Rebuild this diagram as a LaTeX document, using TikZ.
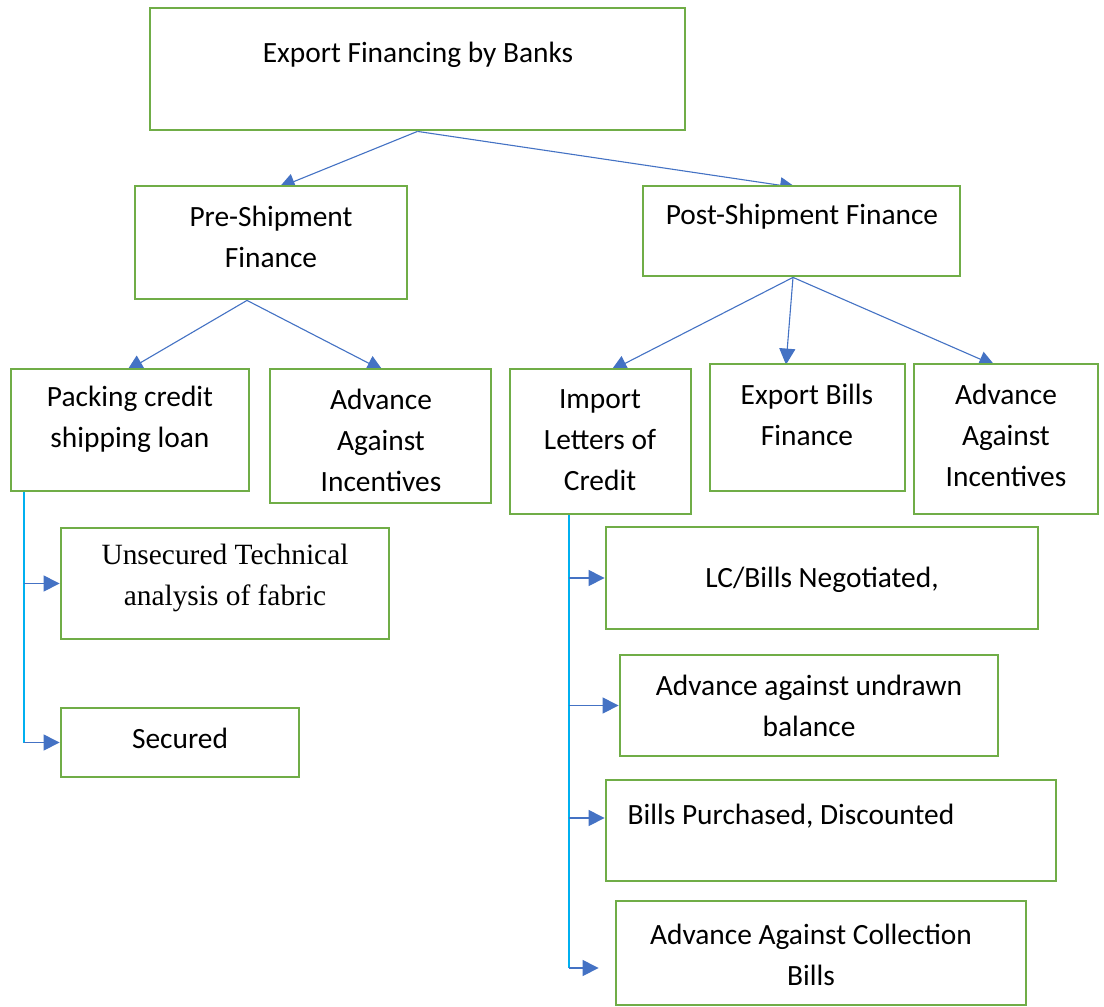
\documentclass[tikz,border=0pt]{standalone}
\usepackage{fontspec}
\setmainfont{Carlito}
\newfontfamily\serifface{Liberation Serif}
\usetikzlibrary{arrows.meta,backgrounds}

\definecolor{boxgreen}{HTML}{70AD47}
\definecolor{linkblue}{HTML}{4472C4}
\definecolor{trunkcyan}{HTML}{00B0F0}

\def\px{0.5pt}
% name, center x, center y, width, height
\newcommand\finbox[5]{\node[box, minimum width=#4*\px, minimum height=#5*\px] (#1) at (#2,#3) {};}

\begin{document}
\begin{tikzpicture}[x=\px, y=-\px,
    box/.style={draw=boxgreen, line width=1.4pt, fill=white, inner sep=0pt},
    txt/.style={align=center, inner sep=0pt, font=\fontsize{14.7}{20.5}\selectfont},
    serif/.style={txt, font=\fontsize{14.7}{20.5}\selectfont\serifface},
    link/.style={draw=linkblue, line width=0.55pt, -{Triangle[length=8pt,width=8pt]}},
    trunk/.style={draw=trunkcyan, line width=1.1pt}
    ]
    \useasboundingbox (0,0) rectangle (1104,1007);

    % top
    \finbox{banks}{417.5}{69}{535}{122}
    \node[txt] (banks-t) at (418,55) {Export Financing by Banks};

    % pre / post shipment
    \finbox{pre}{271}{242.5}{272}{113}
    \node[txt] (pre-t) at (271,237) {Pre-Shipment\\Finance};
    \finbox{post}{801.5}{231}{317}{90}
    \node[txt] (post-t) at (802,217) {Post-Shipment Finance};

    % pre shipment kinds
    \finbox{pack}{130}{430}{238}{122}
    \node[txt] (pack-t) at (130,419.5) {Packing credit\\shipping loan};
    \finbox{advl}{380.5}{436}{221}{134}
    \node[txt] (advl-t) at (381,440) {Advance\\Against\\Incentives};
    \finbox{unsec}{225}{583.5}{328}{111}
    \node[serif] (unsec-t) at (225,577.5) {Unsecured Technical\\analysis of fabric};
    \finbox{sec}{180}{742.5}{238}{69}
    \node[txt] (sec-t) at (180,738) {Secured};

    % post shipment kinds
    \finbox{imp}{600.5}{441.5}{181}{145}
    \node[txt] (imp-t) at (600,440) {Import\\Letters of\\Credit};
    \finbox{expb}{807.5}{427.5}{195}{127}
    \node[txt] (expb-t) at (807,414.5) {Export Bills\\Finance};
    \finbox{advr}{1006}{439}{184}{150}
    \node[txt] (advr-t) at (1006,435) {Advance\\Against\\Incentives};

    % letters of credit
    \finbox{lcb}{822}{578}{432}{102}
    \node[txt] (lcb-t) at (822,580) {LC/Bills Negotiated,};
    \finbox{undr}{809}{705.5}{378}{101}
    \node[txt] (undr-t) at (809,706) {Advance against undrawn\\balance};
    \finbox{bpur}{831}{830.5}{450}{101}
    \node[txt] (bpur-t) at (791,816) {Bills Purchased, Discounted};
    \finbox{coll}{821}{953}{410}{104}
    \node[txt] (coll-t) at (811,955) {Advance Against Collection\\Bills};

    \begin{scope}[on background layer]
      \fill[white] (0,0) rectangle (1104,1007);
      % tree arrows, tips run a little under the boxes
      \draw[link] (banks.south) -- ([xshift=4pt,yshift=-1.5pt]pre.north);
      \draw[link] (banks.south) -- ([xshift=-2.75pt,yshift=-1.5pt]post.north);
      \draw[link] ([xshift=-12pt]pre.south) -- ([xshift=-1.5pt,yshift=-1.5pt]pack.north);
      \draw[link] ([xshift=-12pt]pre.south) -- ([xshift=1.25pt,yshift=-1.5pt]advl.north);
      \draw[link] ([xshift=-4.25pt]post.south) -- ([xshift=5.25pt,yshift=-1.5pt]imp.north);
      \draw[link] ([xshift=-4.25pt]post.south) -- ([xshift=-10.75pt,yshift=-1pt]expb.north);
      \draw[link] ([xshift=-4.25pt]post.south) -- ([xshift=-5.5pt,yshift=-1.5pt]advr.north);
    \end{scope}

    % packing credit branch
    \coordinate (ltop) at ([xshift=7pt]pack.south west);
    \draw[trunk] (ltop) -- (ltop |- sec.west);
    \draw[link] (ltop |- unsec.west) -- (unsec.west);
    \draw[link] (ltop |- sec.west) -- (sec.west);

    % letters of credit branch
    \coordinate (rtop) at ([xshift=30pt]imp.south west);
    \coordinate (rend) at ([xshift=-8pt,yshift=-7.5pt]coll.west);
    \draw[trunk] (rtop) -- (rtop |- rend);
    \draw[link] (rtop |- lcb.west) -- (lcb.west);
    \draw[link] (rtop |- undr.west) -- (undr.west);
    \draw[link] (rtop |- bpur.west) ++(0,6.25pt) -- ([yshift=6.25pt]bpur.west);
    \draw[link] (rtop |- rend) -- (rend);
\end{tikzpicture}
\end{document}
